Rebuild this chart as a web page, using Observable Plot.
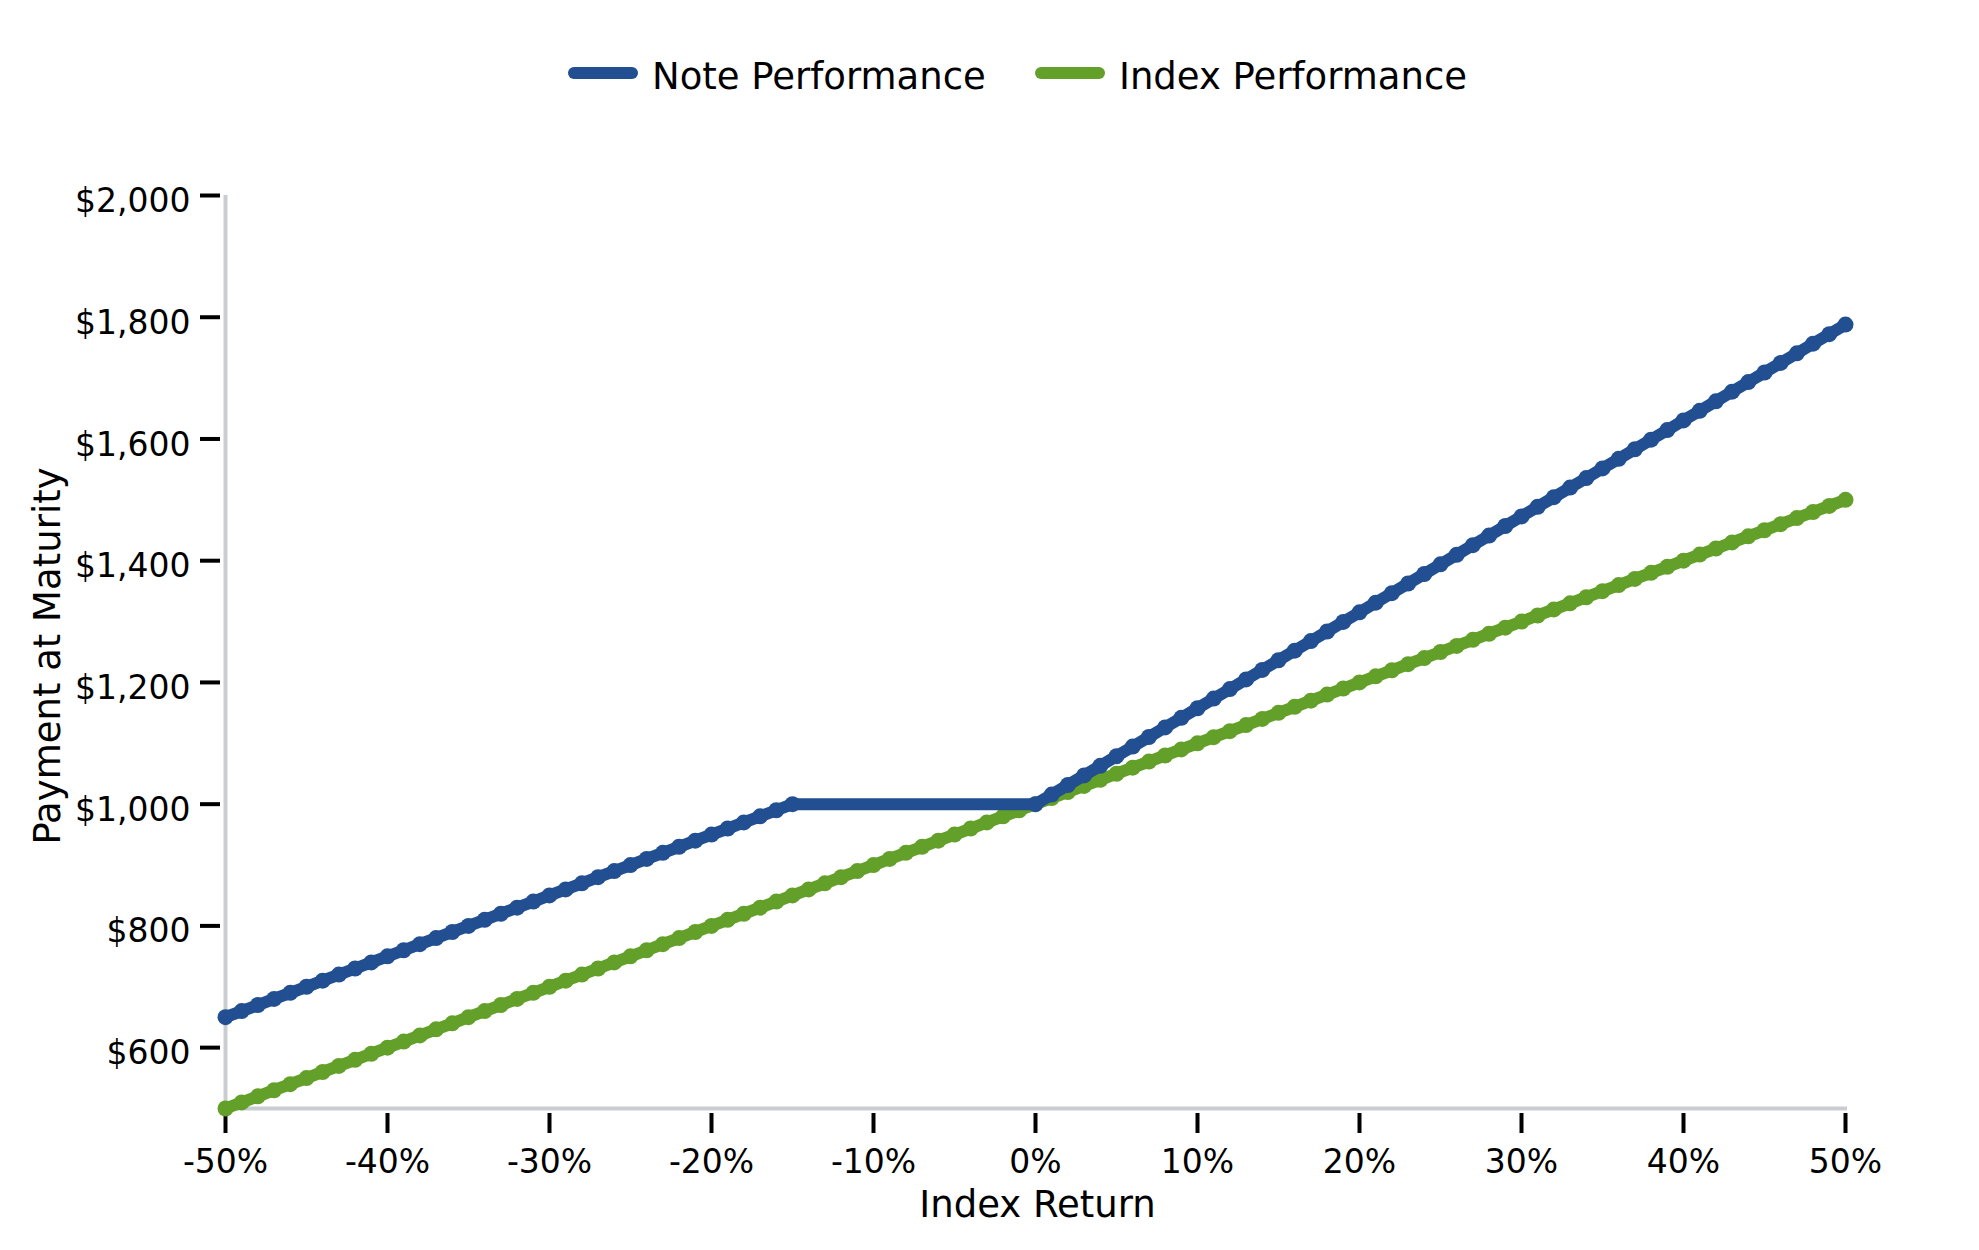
<!DOCTYPE html>
<html>
<head>
<meta charset="utf-8">
<script src="https://cdn.jsdelivr.net/npm/d3@7"></script>
<script src="https://cdn.jsdelivr.net/npm/@observablehq/plot@0.6"></script>
<style>
  html, body { margin: 0; padding: 0; background: #fff; }
  body { width: 1979px; height: 1250px; overflow: hidden; font-family: "DejaVu Sans", sans-serif; }
  #legend { position: relative; height: 130px; }
  #legend .sw { position: absolute; top: 67px; width: 70px; height: 12px; border-radius: 6px; }
  #legend .lab { position: absolute; top: 58px; font-size: 37px; line-height: 37px; color: #000; white-space: nowrap; }
</style>
</head>
<body>
<div id="legend"></div>
<div id="chart"></div>
<script>
// ---- data ----
const seriesNames = ["Note Performance", "Index Performance"];
const seriesColors = ["#214f91", "#63a02a"];

const indexReturns = [-50,-49,-48,-47,-46,-45,-44,-43,-42,-41,-40,-39,-38,-37,-36,-35,-34,-33,-32,-31,-30,-29,-28,-27,-26,-25,-24,-23,-22,-21,-20,-19,-18,-17,-16,-15,-14,-13,-12,-11,-10,-9,-8,-7,-6,-5,-4,-3,-2,-1,0,1,2,3,4,5,6,7,8,9,10,11,12,13,14,15,16,17,18,19,20,21,22,23,24,25,26,27,28,29,30,31,32,33,34,35,36,37,38,39,40,41,42,43,44,45,46,47,48,49,50];
const indexPayments = [500,510,520,530,540,550,560,570,580,590,600,610,620,630,640,650,660,670,680,690,700,710,720,730,740,750,760,770,780,790,800,810,820,830,840,850,860,870,880,890,900,910,920,930,940,950,960,970,980,990,1000,1010,1020,1030,1040,1050,1060,1070,1080,1090,1100,1110,1120,1130,1140,1150,1160,1170,1180,1190,1200,1210,1220,1230,1240,1250,1260,1270,1280,1290,1300,1310,1320,1330,1340,1350,1360,1370,1380,1390,1400,1410,1420,1430,1440,1450,1460,1470,1480,1490,1500];

const noteReturns = [-50,-49,-48,-47,-46,-45,-44,-43,-42,-41,-40,-39,-38,-37,-36,-35,-34,-33,-32,-31,-30,-29,-28,-27,-26,-25,-24,-23,-22,-21,-20,-19,-18,-17,-16,-15,0,1,2,3,4,5,6,7,8,9,10,11,12,13,14,15,16,17,18,19,20,21,22,23,24,25,26,27,28,29,30,31,32,33,34,35,36,37,38,39,40,41,42,43,44,45,46,47,48,49,50];
const notePayments = [650,660,670,680,690,700,710,720,730,740,750,760,770,780,790,800,810,820,830,840,850,860,870,880,890,900,910,920,930,940,950,960,970,980,990,1000,1000,1015.8,1031.5,1047.3,1063.0,1078.8,1094.6,1110.3,1126.1,1141.8,1157.6,1173.4,1189.1,1204.9,1220.6,1236.4,1252.2,1267.9,1283.7,1299.4,1315.2,1331.0,1346.7,1362.5,1378.2,1394.0,1409.8,1425.5,1441.3,1457.0,1472.8,1488.6,1504.3,1520.1,1535.8,1551.6,1567.4,1583.1,1598.9,1614.6,1630.4,1646.2,1661.9,1677.7,1693.4,1709.2,1725.0,1740.7,1756.5,1772.2,1788.0];

const xTicks = [-50,-40,-30,-20,-10,0,10,20,30,40,50];
const yTicks = [600,800,1000,1200,1400,1600,1800,2000];
const xDomain = [-50, 50];
const yDomain = [500, 2000];
const xTitle = "Index Return";
const yTitle = "Payment at Maturity";

// ---- tables ----
const indexData = indexReturns.map((r, i) => ({r, v: indexPayments[i]}));
const noteData = noteReturns.map((r, i) => ({r, v: notePayments[i]}));

// ---- legend ----
const legend = document.getElementById("legend");
const swatchLefts = [568, 1035];
seriesNames.forEach((name, i) => {
  const sw = document.createElement("div");
  sw.className = "sw";
  sw.style.left = swatchLefts[i] + "px";
  sw.style.background = seriesColors[i];
  const lab = document.createElement("div");
  lab.className = "lab";
  lab.style.left = (swatchLefts[i] + 84) + "px";
  lab.textContent = name;
  legend.appendChild(sw);
  legend.appendChild(lab);
});

const axisGray = "#c9cdd2";
const fmtY = d => "$" + d3.format(",")(d);
const fmtX = d => d + "%";

const chart = Plot.plot({
  width: 1979,
  height: 1120,
  marginTop: 65,
  marginBottom: 142,
  marginLeft: 225,
  marginRight: 134,
  style: {fontFamily: "DejaVu Sans, sans-serif", fontSize: "33px", color: "#000", background: "#fff"},
  x: {domain: xDomain},
  y: {domain: yDomain},
  marks: [
    // axis lines
    Plot.ruleX([xDomain[0]], {y1: yDomain[0], y2: yDomain[1], stroke: axisGray, strokeWidth: 4}),
    Plot.ruleY([yDomain[0]], {x1: xDomain[0], x2: xDomain[1], stroke: axisGray, strokeWidth: 4, strokeLinecap: "square"}),
    // y ticks and labels
    Plot.axisY(yTicks, {tickSize: 20, dx: -5, strokeWidth: 4, tickFormat: () => "", label: null}),
    Plot.axisY(yTicks, {tickSize: 0, tickPadding: 35, dy: 6, tickFormat: fmtY, label: null, fontSize: 33}),
    // x ticks and labels
    Plot.axisX(xTicks, {tickSize: 20, dy: 5, strokeWidth: 4, tickFormat: () => "", label: null}),
    Plot.axisX(xTicks, {tickSize: 0, tickPadding: 41, tickFormat: fmtX, label: null, fontSize: 33}),
    // axis titles
    Plot.text([xTitle], {frameAnchor: "bottom", text: d => d, dy: 97, dx: 2, fontSize: 37, textAnchor: "middle", lineAnchor: "middle"}),
    Plot.text([yTitle], {frameAnchor: "left", text: d => d, rotate: -90, dx: -177, dy: 4, fontSize: 37, textAnchor: "middle", lineAnchor: "middle"}),
    // series
    Plot.line(indexData, {x: "r", y: "v", stroke: seriesColors[1], strokeWidth: 12}),
    Plot.dot(indexData, {x: "r", y: "v", r: 8, fill: seriesColors[1], stroke: null}),
    Plot.line(noteData, {x: "r", y: "v", stroke: seriesColors[0], strokeWidth: 12}),
    Plot.dot(noteData, {x: "r", y: "v", r: 8, fill: seriesColors[0], stroke: null})
  ]
});
document.getElementById("chart").appendChild(chart);
</script>
</body>
</html>
